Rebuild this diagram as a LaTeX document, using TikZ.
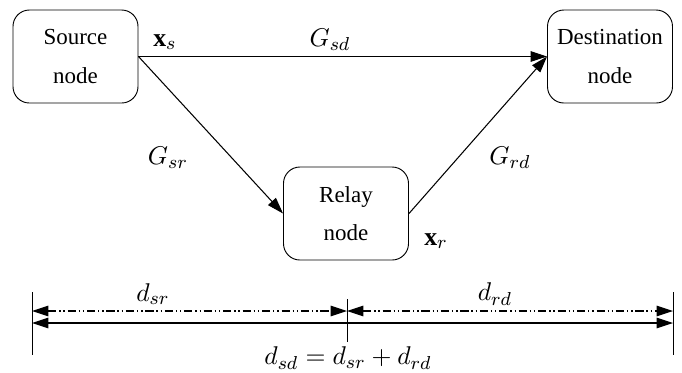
\documentclass[tikz,border=0pt]{standalone}
\usepackage{amsmath}
\usepackage{amssymb}
\usepackage{fontspec}
\setmainfont{Liberation Serif}
\usepackage{tikz}
\usetikzlibrary{arrows.meta}

\tikzset{
  station/.style={draw, rounded corners=7pt, minimum width=1.875cm, minimum height=1.395cm,
    align=center, font=\rmfamily\fontsize{9.8}{16.3}\selectfont, inner sep=0pt},
  link/.style={-{Triangle[length=7pt,width=4.5pt]}, line width=0.45pt},
  both/.style={{Triangle[length=7pt,width=4.5pt]}-{Triangle[length=7pt,width=4.5pt]}, line width=0.45pt},
  dashdotdot/.style={dash pattern=on 3.5pt off 1.2pt on 0.6pt off 1.2pt on 0.6pt off 1.2pt},
  lbl/.style={font=\fontsize{11}{13}\selectfont}
}

\begin{document}
\begin{tikzpicture}[x=0.015cm,y=-0.015cm]
  \useasboundingbox (0,0) rectangle (682,372);

  % the three nodes
  \node[station] (src) at (75.5,56.5) {Source\\node};
  \node[station] (dst) at (610,56.5) {Destination\\node};
  \node[station] (rel) at (346,213.5) {Relay\\node};

  \draw[link] (src.east) -- (dst.west);
  \draw[link] (src.east) -- (rel.west);
  \draw[link] (rel.east) -- (dst.west);

  \node[lbl, anchor=west] (xs) at (145,42) {$\mathbf{x}_s$};
  \node[lbl, anchor=west] (xr) at (416,241) {$\mathbf{x}_r$};
  \node[lbl] (gsd) at (330,40) {$G_{sd}$};
  \node[lbl] (gsr) at (168,158) {$G_{sr}$};
  \node[lbl] (grd) at (510,158) {$G_{rd}$};

  % distances
  \coordinate (lt) at (32,292);  \coordinate (lb) at (32,355);
  \coordinate (mt) at (347,299); \coordinate (mb) at (347,342);
  \coordinate (rt) at (673,292); \coordinate (rb) at (673,355);
  \draw[line width=0.4pt] (lt) -- (lb);
  \draw[line width=0.4pt] (mt) -- (mb);
  \draw[line width=0.4pt] (rt) -- (rb);

  \coordinate (l1) at (32,311);  \coordinate (m1) at (347,311); \coordinate (r1) at (673,311);
  \coordinate (l2) at (32,323);  \coordinate (r2) at (673,323);
  \draw[both, dashdotdot] (l1) -- (m1);
  \draw[both, dashdotdot] (m1) -- (r1);
  \draw[both] (l2) -- (r2);

  \node[lbl] (dsr) at (153,294) {$d_{sr}$};
  \node[lbl] (drd) at (495,294) {$d_{rd}$};
  \node[lbl] (dsd) at (348,358) {$d_{sd} = d_{sr} + d_{rd}$};
\end{tikzpicture}
\end{document}
